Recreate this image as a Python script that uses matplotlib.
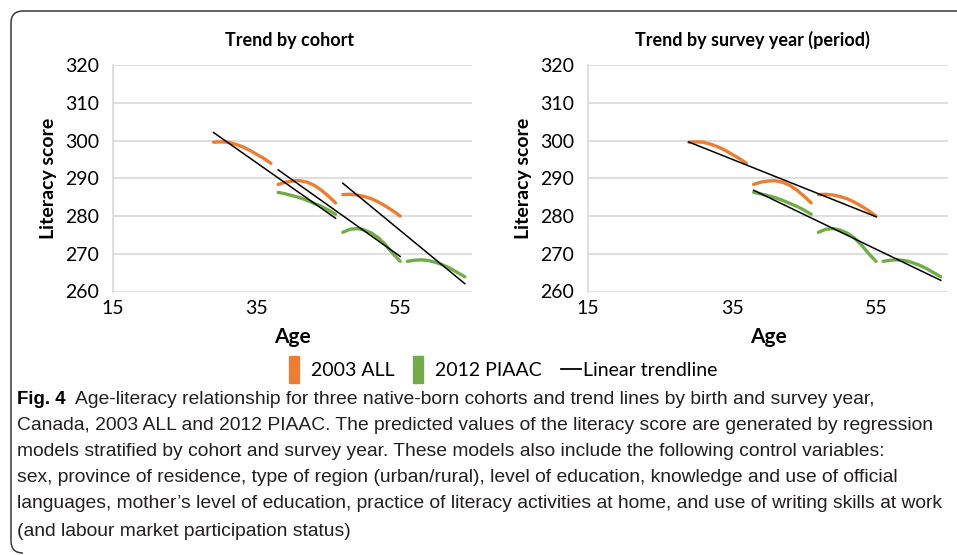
import numpy as np
import matplotlib
matplotlib.use("Agg")
import matplotlib.pyplot as plt
from matplotlib.patches import Patch, Rectangle, PathPatch
from matplotlib.path import Path
from matplotlib.lines import Line2D
from matplotlib.legend_handler import HandlerPatch
from matplotlib.transforms import IdentityTransform
from matplotlib import font_manager

# ages covered by each cohort curve
ages_a = [29, 30, 31, 32, 33, 34, 35, 36, 37]
ages_b = [38, 39, 40, 41, 42, 43, 44, 45, 46]
ages_c = [47, 48, 49, 50, 51, 52, 53, 54, 55]
ages_d = [56, 57, 58, 59, 60, 61, 62, 63, 64]

# predicted literacy score, 2003 ALL
all_c1 = [299.6, 299.7, 299.6, 299.1, 298.4, 297.5, 296.4, 295.3, 294.0]
all_c2 = [288.4, 289.0, 289.3, 289.4, 289.0, 288.2, 286.9, 285.3, 283.5]
all_c3 = [285.7, 285.8, 285.6, 285.2, 284.6, 283.7, 282.6, 281.4, 280.0]
# predicted literacy score, 2012 PIAAC
piaac_c1 = [286.3, 285.9, 285.4, 284.9, 284.2, 283.4, 282.6, 281.6, 280.5]
piaac_c2 = [275.7, 276.5, 276.7, 276.3, 275.5, 274.2, 272.3, 270.0, 268.0]
piaac_c3 = [268.0, 268.3, 268.4, 268.2, 267.7, 267.0, 266.1, 265.0, 263.9]

x_ticks = [15, 35, 55]
y_ticks = [260, 270, 280, 290, 300, 310, 320]

ORANGE = "#ED7D31"
GREEN = "#70AD47"
GRID = "#D9D9D9"

plt.rcParams["font.family"] = ["Lato", "DejaVu Sans"]

names = {f.name for f in font_manager.fontManager.ttflist}
if "Liberation Sans Narrow" in names:
    cap_font, cap_size = ["Liberation Sans Narrow", "DejaVu Sans"], 13.8
else:
    cap_font, cap_size = ["Liberation Sans", "DejaVu Sans"], 13.9

W, H = 957, 555
fig = plt.figure(figsize=(W / 100, H / 100), dpi=100)


def px_axes(x0, y0, x1, y1):
    return fig.add_axes([x0 / W, 1 - y1 / H, (x1 - x0) / W, (y1 - y0) / H])


def draw_panel(ax, title, title_x, trend_groups):
    ax.plot(ages_a, all_c1, color=ORANGE, lw=2.4, solid_capstyle="round")
    ax.plot(ages_b, all_c2, color=ORANGE, lw=2.4, solid_capstyle="round")
    ax.plot(ages_c, all_c3, color=ORANGE, lw=2.4, solid_capstyle="round")
    ax.plot(ages_b, piaac_c1, color=GREEN, lw=2.4, solid_capstyle="round")
    ax.plot(ages_c, piaac_c2, color=GREEN, lw=2.4, solid_capstyle="round")
    ax.plot(ages_d, piaac_c3, color=GREEN, lw=2.4, solid_capstyle="round")

    # linear trendlines fitted over each group
    for xs, ys in trend_groups:
        xs = np.array(xs, dtype=float)
        k, b = np.polyfit(xs, np.array(ys), 1)
        ends = np.array([xs.min(), xs.max()])
        ax.plot(ends, k * ends + b, color="black", lw=1.1)

    ax.set_xlim(15, 65)
    ax.set_ylim(260, 320)
    ax.set_xticks(x_ticks)
    ax.set_yticks(y_ticks)
    ax.tick_params(length=0, labelsize=14, pad=6)
    ax.tick_params(axis="y", pad=10)
    ax.grid(axis="y", color=GRID, lw=1.2)
    ax.set_axisbelow(True)
    for s in ["top", "right", "bottom"]:
        ax.spines[s].set_visible(False)
    ax.spines["left"].set_color(GRID)
    ax.spines["left"].set_linewidth(1.2)
    ax.set_xlabel("Age", fontsize=15, fontweight="bold", labelpad=7)
    ax.set_ylabel("Literacy score", fontsize=14, fontweight="bold", labelpad=6)
    ax.set_title(title, fontsize=13, fontweight="bold", pad=14, x=title_x)


ax1 = px_axes(113, 65.3, 472, 291.5)
cohort_groups = [
    (ages_a + ages_b, all_c1 + piaac_c1),
    (ages_b + ages_c, all_c2 + piaac_c2),
    (ages_c + ages_d, all_c3 + piaac_c3),
]
draw_panel(ax1, "Trend by cohort", 0.492, cohort_groups)

ax2 = px_axes(588, 65.3, 948, 291.5)
period_groups = [
    (ages_a + ages_b + ages_c, all_c1 + all_c2 + all_c3),
    (ages_b + ages_c + ages_d, piaac_c1 + piaac_c2 + piaac_c3),
]
draw_panel(ax2, "Trend by survey year (period)", 0.458, period_groups)


# narrow, left-aligned patch inside the legend handle box
def narrow_patch(legend, orig_handle, xdescent, ydescent, width, height, fontsize):
    return Rectangle((-xdescent, -ydescent - height * 0.25), width * 0.5, height * 1.5)


handles = [
    Patch(color=ORANGE, label="2003 ALL"),
    Patch(color=GREEN, label="2012 PIAAC"),
    Line2D([], [], color="black", lw=1.3, label="Linear trendline"),
]
fig.legend(handles=handles, loc="center", bbox_to_anchor=(503 / W, 1 - 370 / H),
           ncol=3, frameon=False, fontsize=14, handlelength=1.05,
           handleheight=1.0, handletextpad=0.1, columnspacing=0.95,
           handler_map={Patch: HandlerPatch(patch_func=narrow_patch)})

# caption
caption_lines = [
    "Age-literacy relationship for three native-born cohorts and trend lines by birth and survey year,",
    "Canada, 2003 ALL and 2012 PIAAC. The predicted values of the literacy score are generated by regression",
    "models stratified by cohort and survey year. These models also include the following control variables:",
    "sex, province of residence, type of region (urban/rural), level of education, knowledge and use of official",
    "languages, mother\u2019s level of education, practice of literacy activities at home, and use of writing skills at work",
    "(and labour market participation status)",
]
line_y = [400, 426, 452, 478, 504, 531]
fig_lbl = fig.text(17 / W, 1 - line_y[0] / H, "Fig. 4", family=cap_font,
                   fontsize=cap_size - 0.5, fontweight="bold", va="center")
lbl_end = fig_lbl.get_window_extent(fig.canvas.get_renderer()).x1
for i, (txt, y) in enumerate(zip(caption_lines, line_y)):
    x0 = (lbl_end + 9) / W if i == 0 else 17 / W
    fig.text(x0, 1 - y / H, txt, family=cap_font, fontsize=cap_size,
             va="center", color="#231F20")

# frame: top and left edges with rounded corners (pixel coords, y up)
top, left, bot, r = H - 11, 11, 2, 12
verts = [(W + 10, top), (left + r, top), (left, top), (left, top - r),
         (left, bot + r), (left, bot), (left + r, bot)]
codes = [Path.MOVETO, Path.LINETO, Path.CURVE3, Path.CURVE3,
         Path.LINETO, Path.CURVE3, Path.CURVE3]
fig.add_artist(PathPatch(Path(verts, codes), transform=IdentityTransform(),
                         fill=False, ec="#3A3A3A", lw=1.1))

fig.savefig("out.png", dpi=100)
